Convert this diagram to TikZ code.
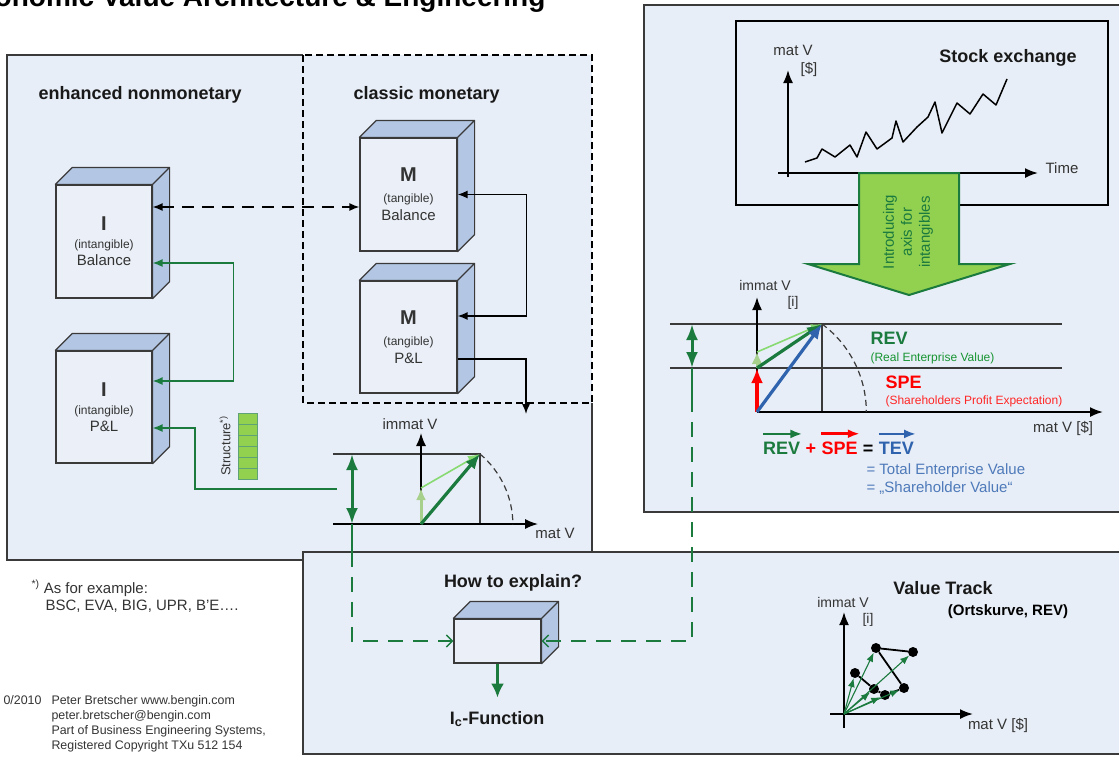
\documentclass[tikz,border=0pt]{standalone}
\usepackage{fontspec}
\setmainfont{Liberation Sans}
\usetikzlibrary{arrows.meta,calc,positioning}
\definecolor{panelbg}{HTML}{E8EEF7}
\definecolor{cubefill}{HTML}{EBF0F8}
\definecolor{cubeblue}{HTML}{B3C6E4}
\definecolor{edgegray}{HTML}{3A3A3A}
\definecolor{dkgreen}{HTML}{1B7A3E}
\definecolor{ltgreen}{HTML}{A8D08D}
\definecolor{limegreen}{HTML}{92D050}
\definecolor{tevblue}{HTML}{2F63AE}
\definecolor{labelgray}{HTML}{333333}
\tikzset{
  panel/.style={fill=panelbg, draw=edgegray, line width=1.8pt},
  cubefront/.style={draw=edgegray, fill=cubefill, line width=1.2pt, inner sep=0pt, align=center, text=labelgray, font=\fontsize{15}{17}\selectfont},
  cubeshade/.style={draw=edgegray, fill=cubeblue, line width=1.2pt, line join=round},
  head/.style={font=\fontsize{18}{20}\selectfont\bfseries, text=black!90},
  axlabel/.style={font=\fontsize{15}{17}\selectfont, text=labelgray},
  note/.style={font=\fontsize{15}{17}\selectfont, text=labelgray},
  foot/.style={font=\fontsize{12.4}{15}\selectfont, text=labelgray},
  thinline/.style={draw=edgegray, line width=1.2pt},
  axis/.style={draw=black, line width=1.8pt, -{Latex[length=13pt,width=10pt]}},
  grnline/.style={draw=dkgreen, line width=1.5pt},
  grndash/.style={draw=dkgreen, line width=1.5pt, dash pattern=on 15pt off 10pt},
  bigvec/.style={line width=3.2pt, -{Latex[length=15pt,width=12pt]}},
  dblvec/.style={draw=dkgreen, line width=3pt, {Latex[length=16pt,width=12pt]}-{Latex[length=16pt,width=12pt]}},
  trackvec/.style={draw=dkgreen, line width=1.1pt, -{Latex[length=9pt,width=7pt]}},
  dot/.style={circle, fill=black, minimum size=10pt, inner sep=0pt}
}
\newcommand\cubeside[1]{%
  \filldraw[cubeshade] (#1.north west) -- ++(17,-17) -- ($(#1.north east)+(17,-17)$) -- ($(#1.south east)+(17,-17)$) -- (#1.south east) -- (#1.north east) -- cycle (#1.north east) -- ++(17,-17);}
\begin{document}
\begin{tikzpicture}[x=1pt, y=-1pt, >={Latex[length=10pt,width=8pt]}]
  \useasboundingbox (0,0) rectangle (1119,756);
  \node[anchor=base east, font=\fontsize{28}{30}\selectfont\bfseries] (title) at (549,6) {Economic Value Architecture \& Engineering};

  \fill[panelbg] (7,55) rectangle (592,560);
  \draw[edgegray, line width=1.8pt] (303,55) -- (7,55) -- (7,560) -- (303,560) (592,403) -- (592,552);
  \draw[black, line width=1.2pt, dash pattern=on 7pt off 4pt] (303,55) rectangle (592,403);
  \draw[panel] (644,5) rectangle (1125,512);
  \draw[panel] (303,552) rectangle (1125,754);

  \node[head, anchor=base west] (lenh) at (35,99) {enhanced nonmonetary};
  \node[head, anchor=base west] (lcls) at (350,99) {classic monetary};

  \node[cubefront, minimum width=96pt, minimum height=113pt] (ib) at (104,241.5) {{\fontsize{20}{20}\selectfont\bfseries I}\\[1pt]{\fontsize{12}{14}\selectfont(intangible)}\\Balance};
  \node[cubefront, minimum width=96pt, minimum height=112pt] (ip) at (104,407) {{\fontsize{20}{20}\selectfont\bfseries I}\\[1pt]{\fontsize{12}{14}\selectfont(intangible)}\\P\&L};
  \node[cubefront, minimum width=97pt, minimum height=113pt] (mb) at (408.5,194.5) {{\fontsize{20}{20}\selectfont\bfseries M}\\[4pt]{\fontsize{12}{14}\selectfont(tangible)}\\[1pt]Balance};
  \node[cubefront, minimum width=97pt, minimum height=112pt] (mp) at (408.5,337) {{\fontsize{20}{20}\selectfont\bfseries M}\\[4pt]{\fontsize{12}{14}\selectfont(tangible)}\\[1pt]P\&L};
  \foreach \c in {ib,ip,mb,mp} \cubeside{\c};

  \draw[black, line width=1.5pt, dash pattern=on 12pt off 8pt, <->] ([yshift=34.5pt]ib.east) -- ([yshift=-12.5pt]mb.west);
  \draw[black, line width=1.5pt, <->] (mb.east) -- ++(69,0) |- ([yshift=21pt]mp.east);
  \coordinate (mout) at (526,414);
  \draw[black, line width=1.5pt, ->] ([yshift=-22pt]mp.east) -| (mout);
  \draw[grnline, <->, >={Latex[length=10pt,width=8pt]}] ([yshift=-21.5pt]ib.east) -- ++(81,0) |- ([yshift=26pt]ip.east);

  \foreach \i in {0,...,5}
    \filldraw[fill=limegreen, draw=dkgreen!70, line width=0.8pt] (238,413+11*\i) rectangle ++(19,11);
  \node[rotate=90, font=\fontsize{13}{15}\selectfont, text=labelgray] (struct) at (225,446) {Structure\textsuperscript{*)}};

  \coordinate (o1) at (421,524);
  \coordinate (p1) at (480,454);
  \coordinate (q1) at (421,488);
  \coordinate (mv) at (337,489);
  \draw[thinline] (333,454) -- (p1) -- (480,524);
  \draw[axis, line width=1.5pt] (333,524) -- (538,524);
  \draw[axis, line width=1.5pt] (o1) -- (421,433);
  \draw[edgegray, line width=1.2pt, dash pattern=on 6pt off 4pt] (p1) arc[start angle=-50, end angle=0, radius=92];
  \node[axlabel] (imm1) at (410,424) {immat V};
  \node[axlabel] (mat1) at (555,533) {mat V};
  \draw[ltgreen, line width=3pt, -{Latex[length=12pt,width=10pt]}] (o1) -- (q1);
  \draw[ltgreen!80!green, line width=1.6pt, -{Latex[length=12pt,width=9pt]}] (q1) -- (p1);
  \draw[dkgreen, bigvec] (o1) -- (p1);
  \draw[dblvec] (352,454) -- (352,524);
  \draw[grnline, ->] (mv) -- ++(-142,0) |- ([yshift=-21pt]ip.east);
  \draw[grnline] (352,524) -- (352,552);

  \node[cubefront, minimum width=87pt, minimum height=44pt] (hx) at (497.5,641) {};
  \cubeside{hx}
  \node[head] (howto) at (513,583) {How to explain?};
  \draw[dkgreen, line width=3pt, -{Latex[length=14pt,width=13pt]}] (hx.south) -- ++(0,34);
  \node[head] (icf) at (497,719) {I\textsubscript{c}-Function};
  \draw[grndash, -{Straight Barb[length=6pt,width=12pt]}] (352,552) |- (hx.west);

  \draw[fill=panelbg, draw=black, line width=1.5pt] (736,21) rectangle (1108,205);
  \node[head] (stock) at (1008,58) {Stock exchange};
  \draw[axis] (788,177) -- (788,70);
  \draw[axis] (778,173) -- (1038,173);
  \node[axlabel] (smat) at (793,50) {mat V};
  \node[axlabel] (sdol) at (809,69) {[\$]};
  \node[axlabel] (stime) at (1062,168) {Time};
  \draw[black, line width=1.5pt, line join=round] plot coordinates {(805,162) (817,158) (822,149) (835,157) (850,145) (857,157) (866,132) (877,149) (892,138) (896,121) (903,142) (917,127) (928,117) (935,102) (942,133) (957,103) (970,114) (983,94) (996,105) (1007,79)};
  \filldraw[fill=limegreen, draw=dkgreen, line width=2pt, line join=miter] (859,173) -- (959,173) -- (959,264) -- (1010,264) -- (909,295) -- (808,264) -- (859,264) -- cycle;
  \node[rotate=90, align=center, text=dkgreen, font=\fontsize{15}{18}\selectfont] (intro) at (908,232) {Introducing\\axis for\\intangibles};

  \coordinate (o2) at (757,412);
  \coordinate (p2) at (822,324);
  \coordinate (q2) at (757,368);
  \coordinate (r2) at (757,352);
  \draw[thinline] (670,324) -- (1062,324) (670,368) -- (1062,368) (p2) -- (822,412);
  \draw[axis] (o2) -- (1103,412);
  \draw[axis] (o2) -- (757,297);
  \draw[edgegray, line width=1.2pt, dash pattern=on 6pt off 4pt] (p2) arc[start angle=-53.5, end angle=0, radius=109.4];
  \node[axlabel, font=\fontsize{14}{16}\selectfont] (imm2) at (765,285) {immat V};
  \node[axlabel, font=\fontsize{14}{16}\selectfont] (ii2) at (793,303) {[i]};
  \node[axlabel] (mat2) at (1063,428) {mat V [\$]};
  \draw[red, bigvec, line width=3.5pt] (o2) -- (q2);
  \draw[ltgreen, line width=3pt, -{Latex[length=12pt,width=11pt]}] (q2) -- (r2);
  \draw[ltgreen!80!green, line width=1.6pt, -{Latex[length=11pt,width=9pt]}] (r2) -- (p2);
  \draw[dkgreen, bigvec] (q2) -- (p2);
  \draw[tevblue, bigvec] (o2) -- (p2);
  \draw[dblvec] (692,324) -- (692,368);
  \draw[grnline] (692,368) -- (692,397);
  \draw[grndash, -{Straight Barb[length=6pt,width=12pt]}] (692,397) |- (hx.east);

  \node[head, text=dkgreen, anchor=base west] (rev) at (867,344.5) {REV};
  \node[font=\fontsize{12}{14}\selectfont, text=dkgreen!80!green, anchor=base west] (revt) at (867,361) {(Real Enterprise Value)};
  \node[head, text=red, anchor=base west] (spe) at (882,388) {SPE};
  \node[font=\fontsize{12}{14}\selectfont, text=red!85!white, anchor=base west] (spet) at (882,404) {(Shareholders Profit Expectation)};

  \node[head, text=dkgreen, anchor=base west, inner sep=0pt] (erev) at (763,454.5) {REV};
  \node[head, text=red, inner sep=0pt, right=5pt of erev.base east, anchor=base west] (eplus) {+};
  \node[head, text=red, inner sep=0pt, right=5pt of eplus.base east, anchor=base west] (espe) {SPE};
  \node[head, text=black, inner sep=0pt, right=5pt of espe.base east, anchor=base west] (eeq) {=};
  \node[head, text=tevblue, inner sep=0pt, right=5pt of eeq.base east, anchor=base west] (etev) {TEV};
  \foreach \w/\c in {erev/dkgreen, espe/red, etev/tevblue}
    \draw[\c, line width=2.5pt, -{Latex[length=12pt,width=9pt]}] ([yshift=8pt]\w.north west) -- ([yshift=8pt,xshift=2pt]\w.north east);
  \node[font=\fontsize{15}{17}\selectfont, text=tevblue!85!white, anchor=base west] (tot1) at (863,474) {= Total Enterprise Value};
  \node[font=\fontsize{15}{17}\selectfont, text=tevblue!85!white, anchor=base west] (tot2) at (863,492) {= „Shareholder Value“};

  \node[head] (vtrack) at (943,588) {Value Track};
  \node[font=\fontsize{15}{17}\selectfont\bfseries] (orts) at (1008,612) {(Ortskurve, REV)};
  \coordinate (o3) at (844,714);
  \draw[axis] (844,728) -- (844,612);
  \draw[axis] (830,714) -- (973,714);
  \node[axlabel, font=\fontsize{14}{16}\selectfont] (imm3) at (843,602) {immat V};
  \node[axlabel, font=\fontsize{14}{16}\selectfont] (ii3) at (868,620) {[i]};
  \node[axlabel] (mat3) at (998,725) {mat V [\$]};
  \foreach \n/\x/\y in {a/855/673, b/876/648, c/913/652, d/874/689, e/885/695, f/904/688}
    \node[dot] (\n) at (\x,\y) {};
  \draw[black, line width=1.8pt] (a) -- (d) -- (e) -- (f) -- (b) -- (c);
  \foreach \n in {a,b,c,d,e,f}
    \draw[trackvec] (o3) -- (\n);

  \node[note, anchor=base west] (fn1) at (28,593) {\textsuperscript{*)} As for example:};
  \node[note, anchor=base west] (fn2) at (42,610) {BSC, EVA, BIG, UPR, B’E….};
  \node[foot, anchor=base west] (date) at (0,704) {0/2010};
  \foreach \t [count=\i] in {Peter Bretscher www.bengin.com, peter.bretscher@bengin.com, {Part of Business Engineering Systems,}, Registered Copyright TXu 512 154}
    \node[foot, anchor=base west] at (48,689+15*\i) {\t};
\end{tikzpicture}
\end{document}
